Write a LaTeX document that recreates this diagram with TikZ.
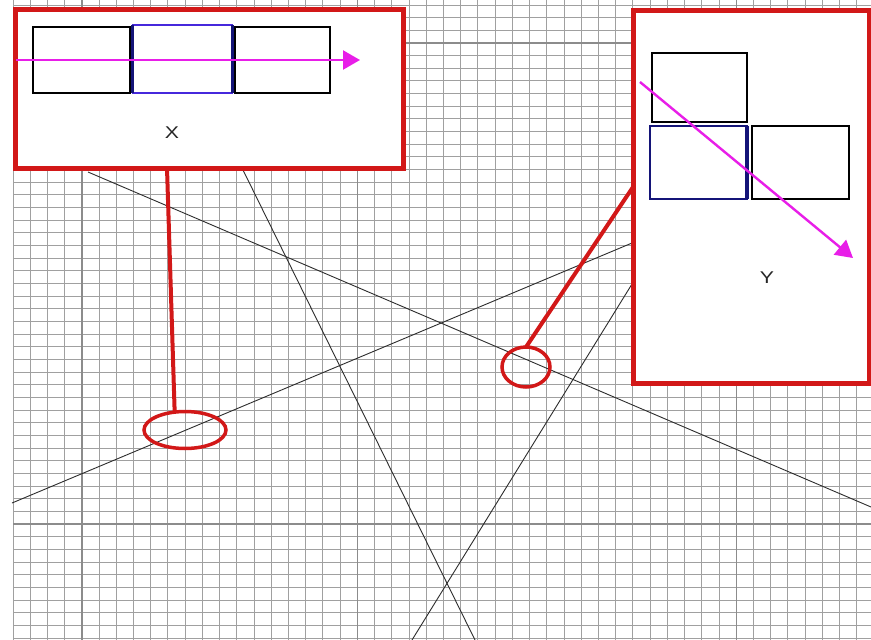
\documentclass[tikz,border=0pt]{standalone}
\usepackage{fontspec}
\setmainfont{Liberation Sans}
\usetikzlibrary{arrows.meta,shapes.geometric}
\definecolor{redb}{RGB}{210,24,24}
\definecolor{magb}{RGB}{232,30,232}
\definecolor{violb}{RGB}{70,40,220}
\definecolor{navyb}{RGB}{20,20,120}
\definecolor{gridc}{RGB}{160,160,160}
\definecolor{gridd}{RGB}{140,140,140}
\definecolor{linec}{RGB}{45,45,45}
\begin{document}
\begin{tikzpicture}[x=1pt,y=-1pt,
  gridline/.style={draw=gridc,line width=1pt},
  gridthick/.style={draw=gridd,line width=1.4pt},
  thinline/.style={draw=linec,line width=0.9pt},
  redbox/.style={draw=redb,line width=5pt,fill=white,rectangle,inner sep=0pt,outer sep=0pt},
  redring/.style={draw=redb,line width=3.5pt,ellipse,inner sep=0pt,outer sep=0pt},
  redlink/.style={draw=redb,line width=4pt},
  cellbox/.style={draw=black,line width=2pt,rectangle,inner sep=0pt,outer sep=0pt},
  bluecell/.style={draw=violb,line width=1.8pt,rectangle,inner sep=0pt,outer sep=0pt},
  navycell/.style={draw=navyb,line width=2pt,rectangle,inner sep=0pt,outer sep=0pt},
  edge/.style={draw=navyb,line width=3.5pt},
  marrow/.style={draw=magb,line width=2.4pt,-{Triangle[length=17pt,width=19pt]}},
  lbl/.style={font=\fontsize{17}{17}\selectfont,text=black!85,inner sep=0pt,xscale=1.25}
]
\useasboundingbox (0,0) rectangle (871,640);
\fill[white] (0,0) rectangle (871,640);
% grid
\foreach \i in {0,...,50} \draw[gridline] (13,5+12.66*\i) -- (871,5+12.66*\i);
\foreach \i in {0,...,49} \draw[gridline] (13+17.22*\i,0) -- (13+17.22*\i,640);
\foreach \i in {4,20,42} \draw[gridthick] (13+17.22*\i,0) -- (13+17.22*\i,640);
\foreach \i in {3,41} \draw[gridthick] (13,5+12.66*\i) -- (871,5+12.66*\i);
% scene lines
\draw[thinline] (88,172) -- (871,507);
\draw[thinline] (12,503) -- (632,243);
\draw[thinline] (243,170) -- (475,640);
\draw[thinline] (632,284) -- (412,640);
% X box
\node[redbox,minimum width=388pt,minimum height=159pt] (xbox) at (209,88.5) {};
\node[cellbox,minimum width=97pt,minimum height=66pt] (xc1) at (81.5,60) {};
\node[cellbox,minimum width=95pt,minimum height=66pt] (xc3) at (282.5,60) {};
\node[bluecell,minimum width=100pt,minimum height=68pt] (xc2) at (182.5,59) {};
\draw[edge] (xc2.north west) -- (xc2.south west);
\draw[edge] (xc2.north east) -- (xc2.south east);
\coordinate (xa1) at (16,60);
\coordinate (xa2) at (360,60);
\draw[marrow] (xa1) -- (xa2);
\node[lbl] (xlab) at (172,133) {X};
% Y box
\node[redbox,minimum width=236pt,minimum height=373pt] (ybox) at (751,196.5) {};
\node[cellbox,minimum width=95pt,minimum height=69pt] (yc1) at (699.5,87.5) {};
\node[cellbox,minimum width=97pt,minimum height=73pt] (yc3) at (800.5,162.5) {};
\node[navycell,minimum width=97pt,minimum height=73pt] (yc2) at (698.5,162.5) {};
\draw[edge] (yc2.north east) -- (yc2.south east);
\coordinate (ya1) at (640,82);
\coordinate (ya2) at (853,258);
\draw[marrow] (ya1) -- (ya2);
\node[lbl] (ylab) at (767,278) {Y};
% red rings and links
\node[redring,minimum width=82pt,minimum height=37pt] (ring1) at (185,430) {};
\node[redring,minimum width=48pt,minimum height=40pt] (ring2) at (526,367) {};
\coordinate (xdrop) at (167,168);
\coordinate (yhit) at (633,187);
\draw[redlink] (xdrop) -- (ring1.120);
\draw[redlink] (ring2.north) -- (yhit);
\end{tikzpicture}
\end{document}
